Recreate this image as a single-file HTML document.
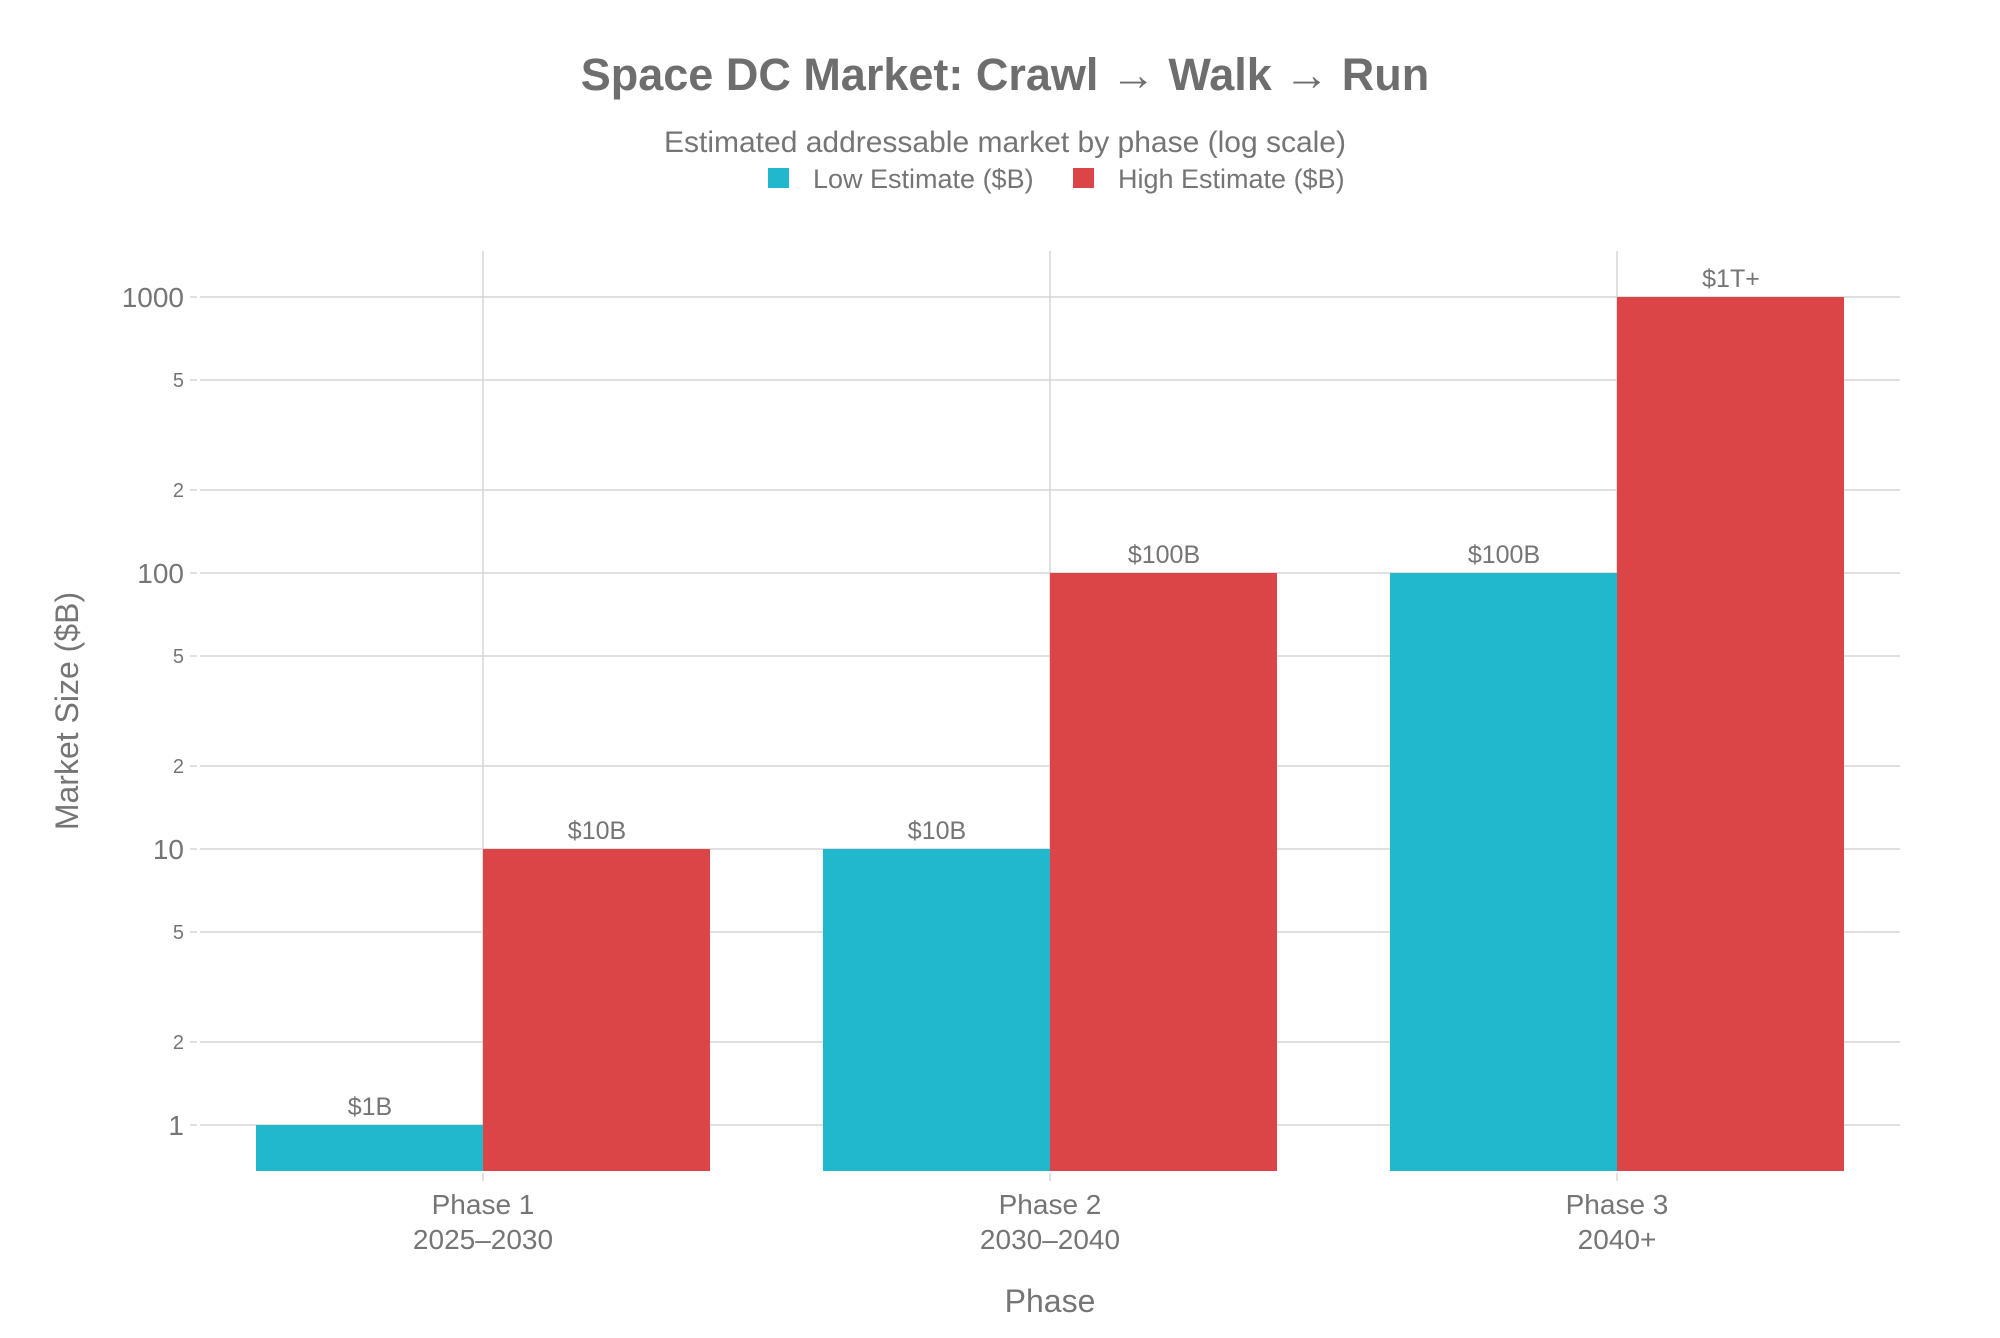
<!DOCTYPE html>
<html><head><meta charset="utf-8"><style>
html,body{margin:0;padding:0;background:#fff;}
svg text{font-family:"Liberation Sans",sans-serif;fill:#757575;}
</style></head><body>
<svg width="2000" height="1333" viewBox="0 0 2000 1333" xmlns="http://www.w3.org/2000/svg">
<rect width="2000" height="1333" fill="#fff"/>
<text x="1005" y="90" font-size="45" font-weight="bold" text-anchor="middle" style="fill:#6e6e6e">Space DC Market: Crawl → Walk → Run</text>
<text x="1005" y="152" font-size="30" text-anchor="middle">Estimated addressable market by phase (log scale)</text>
<rect x="768" y="168" width="21" height="20" fill="#21B7CD"/>
<text x="813" y="188" font-size="27">Low Estimate ($B)</text>
<rect x="1073" y="168" width="21" height="20" fill="#DB4547"/>
<text x="1118" y="188" font-size="27">High Estimate ($B)</text>
<g stroke="#d6d6d6" stroke-width="1.5">
<line x1="483" y1="251" x2="483" y2="1171"/>
<line x1="1050" y1="251" x2="1050" y2="1171"/>
<line x1="1617" y1="251" x2="1617" y2="1171"/>
<line x1="200" y1="297" x2="1900" y2="297"/>
<line x1="200" y1="380" x2="1900" y2="380"/>
<line x1="200" y1="490" x2="1900" y2="490"/>
<line x1="200" y1="573" x2="1900" y2="573"/>
<line x1="200" y1="656" x2="1900" y2="656"/>
<line x1="200" y1="766" x2="1900" y2="766"/>
<line x1="200" y1="849" x2="1900" y2="849"/>
<line x1="200" y1="932" x2="1900" y2="932"/>
<line x1="200" y1="1042" x2="1900" y2="1042"/>
<line x1="200" y1="1125" x2="1900" y2="1125"/>
<line x1="190" y1="297" x2="197" y2="297"/>
<line x1="190" y1="380" x2="197" y2="380"/>
<line x1="190" y1="490" x2="197" y2="490"/>
<line x1="190" y1="573" x2="197" y2="573"/>
<line x1="190" y1="656" x2="197" y2="656"/>
<line x1="190" y1="766" x2="197" y2="766"/>
<line x1="190" y1="849" x2="197" y2="849"/>
<line x1="190" y1="932" x2="197" y2="932"/>
<line x1="190" y1="1042" x2="197" y2="1042"/>
<line x1="190" y1="1125" x2="197" y2="1125"/>
<line x1="483" y1="1173" x2="483" y2="1181"/>
<line x1="1050" y1="1173" x2="1050" y2="1181"/>
<line x1="1617" y1="1173" x2="1617" y2="1181"/>
</g>
<g text-anchor="end">
<text x="184" y="307" font-size="28">1000</text>
<text x="184" y="387" font-size="20">5</text>
<text x="184" y="497" font-size="20">2</text>
<text x="184" y="583" font-size="28">100</text>
<text x="184" y="663" font-size="20">5</text>
<text x="184" y="773" font-size="20">2</text>
<text x="184" y="859" font-size="28">10</text>
<text x="184" y="939" font-size="20">5</text>
<text x="184" y="1049" font-size="20">2</text>
<text x="184" y="1135" font-size="28">1</text>
</g>
<rect x="256" y="1125" width="227" height="46" fill="#21B7CD"/>
<rect x="483" y="849" width="227" height="322" fill="#DB4547"/>
<rect x="823" y="849" width="227" height="322" fill="#21B7CD"/>
<rect x="1050" y="573" width="227" height="598" fill="#DB4547"/>
<rect x="1390" y="573" width="227" height="598" fill="#21B7CD"/>
<rect x="1617" y="297" width="227" height="874" fill="#DB4547"/>
<g text-anchor="middle" font-size="25">
<text x="370" y="1115">$1B</text>
<text x="597" y="839">$10B</text>
<text x="937" y="839">$10B</text>
<text x="1164" y="563">$100B</text>
<text x="1504" y="563">$100B</text>
<text x="1731" y="287">$1T+</text>
</g>
<g text-anchor="middle" font-size="28">
<text x="483" y="1214">Phase 1</text>
<text x="483" y="1249">2025–2030</text>
<text x="1050" y="1214">Phase 2</text>
<text x="1050" y="1249">2030–2040</text>
<text x="1617" y="1214">Phase 3</text>
<text x="1617" y="1249">2040+</text>
</g>
<text x="1050" y="1312" font-size="32" text-anchor="middle">Phase</text>
<text x="0" y="0" font-size="32" text-anchor="middle" transform="translate(78,711) rotate(-90)">Market Size ($B)</text>
</svg>
</body></html>
